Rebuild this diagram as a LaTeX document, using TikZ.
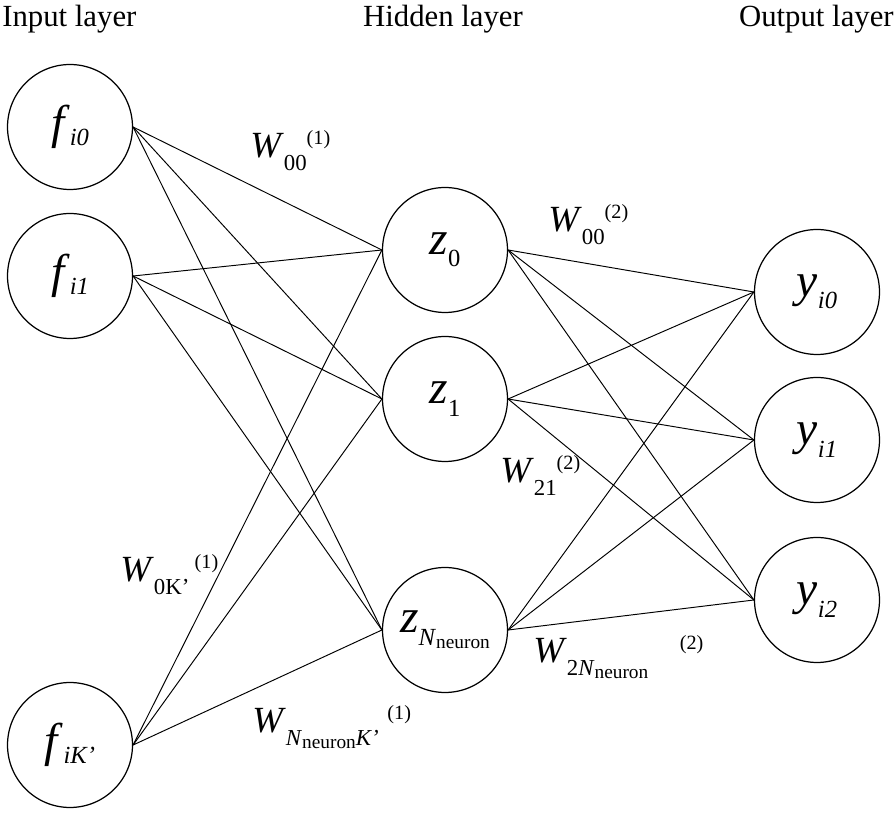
\documentclass[tikz,border=0pt]{standalone}
\usepackage{fontspec}
\setmainfont{Liberation Serif}
\usetikzlibrary{positioning}
\newcommand{\fsz}[1]{\fontsize{#1}{#1}\selectfont}
\newcommand{\nlab}[3]{{\fsz{27}\textit{#1}}\raisebox{-#3}{\fsz{14}#2}}
\newcommand{\wlab}[3]{{\fsz{21}\textit{W}}\raisebox{-7pt}{\fsz{13}#1}\hspace{#2}\raisebox{7.5pt}{\fsz{11.5}#3}}
\newcommand{\neur}{\raisebox{-2pt}{\fsz{11}neuron}}

\begin{document}
\begin{tikzpicture}[x=0.02cm,y=-0.02cm,
    neuron/.style={circle,draw,line width=0.7pt,minimum size=2.5cm,inner sep=0pt},
    weight/.style={anchor=base west,inner sep=0pt},
    layer/.style={font=\fsz{17.5},inner sep=0pt,anchor=base},
    link/.style={line width=0.55pt}]
  \useasboundingbox (0,0) rectangle (896,813);
  \node[layer,anchor=base west] (tin) at (2,27) {Input layer};
  \node[layer] (thid) at (443,27) {Hidden layer};
  \node[layer,anchor=base east] (tout) at (894,27) {Output layer};

  \node[neuron] (f0) at (70,127) {\nlab{f}{\textit{i0}}{4pt}};
  \node[neuron] (f1) at (70,276) {\nlab{f}{\textit{i1}}{4pt}};
  \node[neuron] (fK) at (70,745) {\nlab{f}{\textit{iK’}}{4pt}};

  \node[neuron] (z0) at (445,250) {\nlab{z}{0}{7pt}};
  \node[neuron] (z1) at (445,399) {\nlab{z}{1}{7pt}};
  \node[neuron] (zN) at (445,630) {\nlab{z}{\textit{N}\neur}{7pt}};

  \node[neuron] (y0) at (817,292) {\nlab{y}{\textit{i0}}{7pt}};
  \node[neuron] (y1) at (817,440) {\nlab{y}{\textit{i1}}{7pt}};
  \node[neuron] (y2) at (817,600) {\nlab{y}{\textit{i2}}{7pt}};

  \foreach \a in {f0,f1,fK}
    \foreach \b in {z0,z1,zN}
      \draw[link] (\a.east) -- (\b.west);
  \foreach \a in {z0,z1,zN}
    \foreach \b in {y0,y1,y2}
      \draw[link] (\a.east) -- (\b.west);

  \node[weight] (w1a) at (250,158) {\wlab{00}{0pt}{(1)}};
  \node[weight] (w1b) at (120,582) {\wlab{0K’}{3pt}{(1)}};
  \node[weight] (w1c) at (252,733) {\wlab{\textit{N}\neur\textit{K’}}{5pt}{(1)}};
  \node[weight] (w2a) at (548,232) {\wlab{00}{0pt}{(2)}};
  \node[weight] (w2b) at (500,483) {\wlab{21}{0pt}{(2)}};
  \node[weight] (w2c) at (533,663) {\wlab{2\textit{N}\neur}{18pt}{(2)}};
\end{tikzpicture}
\end{document}
